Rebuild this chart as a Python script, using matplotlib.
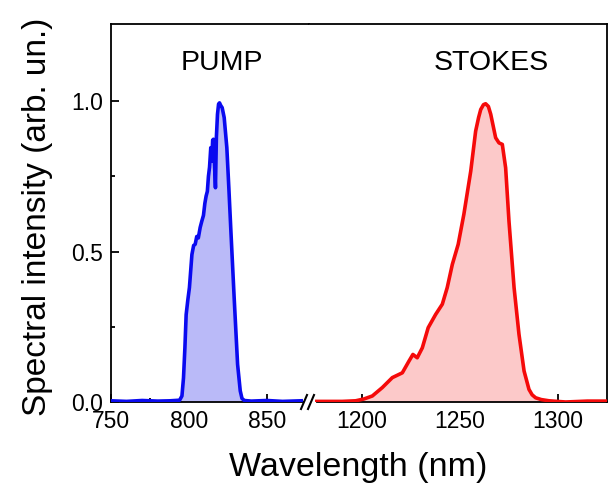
import matplotlib
matplotlib.use("Agg")
import matplotlib.pyplot as plt

plt.rcParams["font.family"] = ["Liberation Sans", "DejaVu Sans"]

# pump spectrum (nm, normalised intensity)
pump_wl = [750, 760, 770, 780, 788, 794, 795.5, 796.5, 797.4, 798.2, 799.3, 800.3,
           801.9, 803, 804, 805, 806, 807.2, 808.2, 809.3, 810.2, 811, 811.8,
           812.5, 813.2, 814, 814.6, 815.2, 815.7, 816.3, 817, 817.6, 818.3, 819,
           819.6, 820.4, 821.3, 822.6, 824.3, 825.6, 826.9, 829, 831.2, 832.9,
           834, 835.5, 840, 850, 860, 872]
pump_int = [0.004, 0.002, 0.005, 0.003, 0.004, 0.006, 0.02, 0.08, 0.18, 0.29, 0.34,
            0.38, 0.49, 0.52, 0.524, 0.55, 0.545, 0.58, 0.6, 0.62, 0.66, 0.684,
            0.70, 0.75, 0.78, 0.845, 0.80, 0.87, 0.873, 0.80, 0.712, 0.88, 0.956,
            0.99, 0.994, 0.985, 0.978, 0.945, 0.845, 0.71, 0.568, 0.346, 0.125,
            0.037, 0.012, 0.005, 0.003, 0.005, 0.002, 0.004]

# stokes spectrum
stokes_wl = [1177, 1190, 1196.8, 1201, 1205.3, 1210.4, 1215.5, 1220.6, 1224, 1226,
             1228.2, 1230.8, 1233.8, 1237.6, 1241, 1243.5, 1246.1, 1249.1, 1252,
             1255.5, 1258, 1259.5, 1260.6, 1262, 1263.1, 1264.5, 1265.7, 1268.2,
             1269.9, 1271.6, 1273.3, 1275, 1277.6, 1280.1, 1282.7, 1285.2, 1286.8,
             1288.6, 1291.5, 1295.4, 1303.9, 1315, 1325]
stokes_int = [0.002, 0.002, 0.004, 0.01, 0.02, 0.048, 0.081, 0.097, 0.136, 0.158,
              0.147, 0.18, 0.247, 0.291, 0.325, 0.38, 0.457, 0.524, 0.624, 0.767,
              0.90, 0.945, 0.972, 0.988, 0.991, 0.982, 0.956, 0.878, 0.861, 0.856,
              0.778, 0.601, 0.38, 0.225, 0.103, 0.042, 0.024, 0.014, 0.008, 0.004,
              0.0, 0.003, 0.003]

W, H = 609, 494
fig = plt.figure(figsize=(W / 100, H / 100), dpi=100)

x0, xm, x1 = 111, 309, 607
ytop, ybot = 24, 402
bot = (H - ybot) / H
hgt = (ybot - ytop) / H
axL = fig.add_axes([x0 / W, bot, (xm - x0) / W, hgt])
axR = fig.add_axes([xm / W, bot, (x1 - xm) / W, hgt])

axL.plot(pump_wl, pump_int, color="#0a0af0", lw=2.6, zorder=3,
         solid_joinstyle="round")
axL.fill_between(pump_wl, pump_int, 0, color="#babaf8", lw=0, zorder=2)
axR.plot(stokes_wl, stokes_int, color="#f50a0a", lw=2.6, zorder=3,
         solid_joinstyle="round")
axR.fill_between(stokes_wl, stokes_int, 0, color="#fcc9c9", lw=0, zorder=2)

axL.set_xlim(750, 877)
axR.set_xlim(1173, 1325)
for ax in (axL, axR):
    ax.set_ylim(0, 1.256)
    for s in ax.spines.values():
        s.set_linewidth(1.3)
    ax.tick_params(which="both", direction="in", labelsize=16.5, width=1.3,
                   top=False, right=False)
    ax.tick_params(which="major", length=6)
    ax.tick_params(which="minor", length=3)
    ax.tick_params(axis="x", pad=6)
    ax.tick_params(axis="y", pad=6)

axL.set_xticks([750, 800, 850])
axL.set_xticks([775, 825], minor=True)
axR.set_xticks([1200, 1250, 1300])
axR.set_xticks([1225, 1275], minor=True)

axL.set_yticks([0, 0.5, 1.0])
axL.set_yticklabels(["0.0", "0.5", "1.0"])
axL.set_yticks([0.25, 0.75], minor=True)

axL.spines["right"].set_visible(False)
axR.spines["left"].set_visible(False)
axR.tick_params(axis="y", which="both", left=False, labelleft=False)
axL.spines["bottom"].set_bounds(750, 873)
axR.spines["bottom"].set_bounds(1177, 1325)

# break marks
for xb in (304, 311):
    fig.add_artist(plt.Line2D([(xb - 3) / W, (xb + 3) / W],
                              [(H - ybot - 7) / H, (H - ybot + 7) / H],
                              color="black", lw=1.5))

axL.text(821, 1.126, "PUMP", ha="center", va="center", fontsize=20.5)
axR.text(1266, 1.126, "STOKES", ha="center", va="center", fontsize=20.5)

fig.text(358 / W, 1 - 467 / H, "Wavelength (nm)", ha="center", va="center",
         fontsize=24.5)
fig.text(38 / W, 1 - 217 / H, "Spectral intensity (arb. un.)", ha="center",
         va="center", rotation=90, fontsize=24)

fig.savefig("out.png", dpi=100)
